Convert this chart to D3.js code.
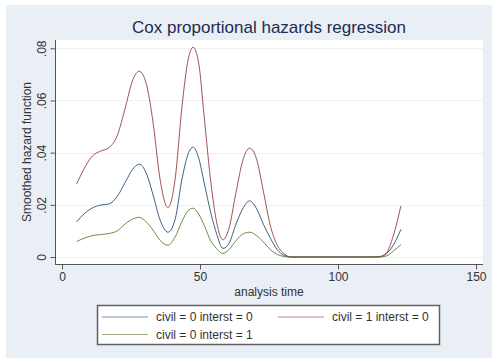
<!DOCTYPE html>
<html>
<head>
<meta charset="utf-8">
<script src="https://cdn.jsdelivr.net/npm/d3@7"></script>
<style>
  html, body { margin: 0; padding: 0; background: #ffffff; }
  svg { display: block; font-family: "Liberation Sans", Arial, sans-serif; }
</style>
</head>
<body>
<svg id="chart" width="492" height="358"></svg>
<script>
// Analysis time grid shared by all three smoothed hazard curves
const times = [5.3, 8, 11, 14, 17, 20, 23, 25.5, 28, 30.5, 33, 35.5, 38.4, 41, 43.5, 45.7, 47.5,
  49.5, 51.5, 54, 56, 58.3, 60.5, 63, 65.5, 68, 70.5, 73, 75.5, 78, 80.5, 83, 90, 100, 110,
  115, 117.5, 120, 122.8];

// civil = 0 interst = 0
const hazardC0I0 = [0.0135, 0.0165, 0.0188, 0.0199, 0.0203, 0.0232, 0.0288, 0.0335, 0.0356,
  0.0322, 0.0238, 0.0143, 0.0095, 0.0145, 0.0300, 0.0395, 0.0421, 0.0380, 0.0285, 0.0165,
  0.0090, 0.0033, 0.0052, 0.0125, 0.0185, 0.0215, 0.0185, 0.0125, 0.0072, 0.0028, 0.0006,
  0, 0, 0, 0, 0, 0.0012, 0.0045, 0.0106];

// civil = 1 interst = 0
const hazardC1I0 = [0.0280, 0.0338, 0.0387, 0.0406, 0.0419, 0.0465, 0.0575, 0.0675, 0.0712,
  0.0665, 0.0515, 0.0300, 0.0189, 0.0300, 0.0580, 0.0756, 0.0804, 0.0745, 0.0540, 0.0280,
  0.0135, 0.0066, 0.0110, 0.0245, 0.0370, 0.0417, 0.0375, 0.0250, 0.0120, 0.0045, 0.0012,
  0, 0, 0, 0, 0.0002, 0.0015, 0.0080, 0.0196];

// civil = 0 interst = 1
const hazardC0I1 = [0.0059, 0.0072, 0.0082, 0.0086, 0.0090, 0.0100, 0.0128, 0.0145, 0.0152,
  0.0135, 0.0103, 0.0064, 0.0045, 0.0077, 0.0137, 0.0178, 0.0187, 0.0165, 0.0122, 0.0060,
  0.0032, 0.0014, 0.0028, 0.0062, 0.0088, 0.0095, 0.0082, 0.0057, 0.0028, 0.0010, 0.0002,
  0, 0, 0, 0, 0, 0.0004, 0.0022, 0.0048];

const xTicks = [0, 50, 100, 150];
const yTicks = [0, 0.02, 0.04, 0.06, 0.08];
const yTickLabels = ["0", ".02", ".04", ".06", ".08"];

const series = [
  { label: "civil = 0 interst = 0", values: hazardC0I0, color: "#1a476f" },
  { label: "civil = 1 interst = 0", values: hazardC1I0, color: "#90353b" },
  { label: "civil = 0 interst = 1", values: hazardC0I1, color: "#55752f" }
];

const svg = d3.select("#chart");

// graph region
svg.append("rect").attr("x", 6).attr("y", 5).attr("width", 486).attr("height", 353)
  .attr("fill", "#eaeef5");

// plot region
const plot = { left: 55, right: 483, top: 40, bottom: 264 };
svg.append("rect").attr("x", plot.left).attr("y", plot.top)
  .attr("width", plot.right - plot.left).attr("height", plot.bottom - plot.top)
  .attr("fill", "#ffffff");

const x = d3.scaleLinear().domain([0, 150]).range([62, 476]);
const y = d3.scaleLinear().domain([0, 0.08]).range([257, 48.3]);

// horizontal grid
svg.append("g").selectAll("line").data(yTicks).join("line")
  .attr("x1", plot.left).attr("x2", plot.right)
  .attr("y1", d => Math.round(y(d)) + 0.5).attr("y2", d => Math.round(y(d)) + 0.5)
  .attr("stroke", "#eef1f4").attr("stroke-width", 1);

// curves
const line = d3.line()
  .x((d, i) => x(times[i]))
  .y(d => y(d))
  .curve(d3.curveMonotoneX);

svg.append("g").selectAll("path").data(series).join("path")
  .attr("d", s => line(s.values))
  .attr("fill", "none")
  .attr("stroke", s => s.color)
  .attr("stroke-width", 1)
  .attr("stroke-opacity", 0.85);

// y axis
const yAxis = d3.axisLeft(y).tickValues(yTicks).tickSize(5).tickPadding(4)
  .tickFormat((d, i) => yTickLabels[i]);
const gy = svg.append("g").attr("transform", `translate(${plot.left + 0.5},0)`).call(yAxis);
gy.select(".domain").remove();
gy.append("line").attr("x1", 0).attr("x2", 0).attr("y1", plot.top).attr("y2", plot.bottom)
  .attr("stroke", "#555");
gy.selectAll(".tick line").attr("stroke", "#555");
gy.selectAll(".tick text")
  .attr("font-size", 12).attr("fill", "#333")
  .attr("x", null).attr("dy", null)
  .attr("text-anchor", "middle")
  .attr("transform", "translate(-10,0) rotate(-90)");

// x axis
const xAxis = d3.axisBottom(x).tickValues(xTicks).tickSize(5).tickPadding(3)
  .tickFormat(d3.format("d"));
const gx = svg.append("g").attr("transform", `translate(0,${plot.bottom + 0.5})`).call(xAxis);
gx.select(".domain").remove();
gx.append("line").attr("x1", plot.left).attr("x2", plot.right).attr("y1", 0).attr("y2", 0)
  .attr("stroke", "#555");
gx.selectAll(".tick line").attr("stroke", "#555");
gx.selectAll(".tick text").attr("font-size", 12).attr("fill", "#333");

// axis titles
svg.append("text").attr("x", (plot.left + plot.right) / 2).attr("y", 296)
  .attr("text-anchor", "middle").attr("font-size", 12).attr("fill", "#333")
  .text("analysis time");

svg.append("text")
  .attr("transform", `translate(31,${(plot.top + plot.bottom) / 2}) rotate(-90)`)
  .attr("text-anchor", "middle").attr("font-size", 12).attr("fill", "#333")
  .text("Smoothed hazard function");

// title
svg.append("text").attr("x", 269).attr("y", 33)
  .attr("text-anchor", "middle").attr("font-size", 17).attr("fill", "#1c2c52")
  .text("Cox proportional hazards regression");

// legend
const legend = svg.append("g");
legend.append("rect").attr("x", 97.5).attr("y", 305.5).attr("width", 342).attr("height", 39)
  .attr("fill", "#ffffff").attr("stroke", "#606060").attr("stroke-width", 1.5);

const legendPos = [
  { lx: 102, ty: 317 },
  { lx: 278, ty: 317 },
  { lx: 102, ty: 334.5 }
];
series.forEach((s, i) => {
  const p = legendPos[i];
  legend.append("line").attr("x1", p.lx).attr("x2", p.lx + 46)
    .attr("y1", p.ty).attr("y2", p.ty)
    .attr("stroke", s.color).attr("stroke-width", 1).attr("stroke-opacity", 0.6);
  legend.append("text").attr("x", p.lx + 54).attr("y", p.ty + 4)
    .attr("font-size", 12).attr("fill", "#333").text(s.label);
});
</script>
</body>
</html>
